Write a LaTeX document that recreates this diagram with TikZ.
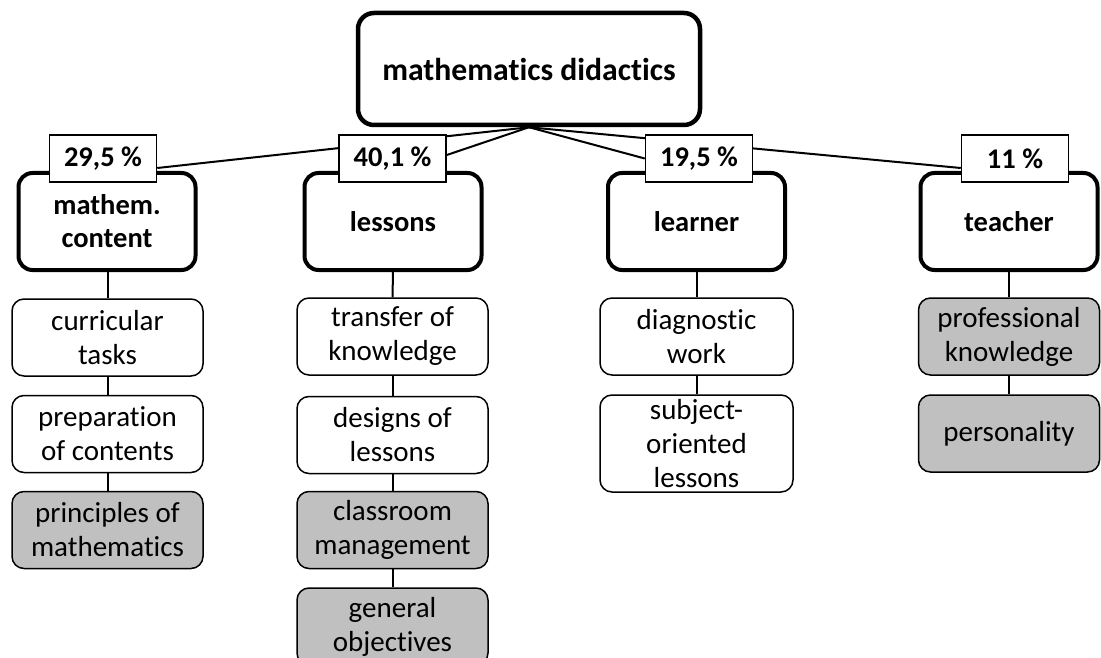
\documentclass[tikz,border=0pt]{standalone}
\usepackage{fontspec}
\setmainfont[Ligatures=NoCommon]{Carlito}
\usetikzlibrary{backgrounds}
\definecolor{boxgray}{HTML}{C0C0C0}
\tikzset{
  topbox/.style={draw, line width=4.5pt, rounded corners=16pt, fill=white,
    minimum width=342pt, minimum height=112pt, inner sep=0pt, align=center,
    font=\bfseries\fontsize{31.7}{36}\selectfont},
  catbox/.style={draw, line width=4pt, rounded corners=14pt, fill=white,
    minimum width=177pt, minimum height=97pt, inner sep=0pt, align=center,
    font=\bfseries\fontsize{28.5}{33}\selectfont},
  pctbox/.style={draw, line width=1.5pt, fill=white,
    minimum width=107pt, minimum height=47pt, inner sep=0pt, align=center,
    font=\bfseries\fontsize{28.5}{33}\selectfont},
  subbox/.style={draw, line width=1.5pt, rounded corners=12pt, fill=white,
    minimum width=191pt, minimum height=77pt, inner sep=0pt, align=center,
    font=\fontsize{29}{34}\selectfont},
  graybox/.style={subbox, fill=boxgray},
  conn/.style={line width=2pt}
}
\begin{document}
\begin{tikzpicture}[x=1pt,y=-1pt]
\useasboundingbox (0,0) rectangle (1101,658);
\clip (0,0) rectangle (1101,658);

% top node
\node[topbox] (top) at (529,69) {mathematics didactics};

% category boxes
\node[catbox] (cat1) at (107,221.5) {mathem.\\content};
\node[catbox] (cat2) at (393,221.5) {lessons};
\node[catbox] (cat3) at (696.5,221.5) {learner};
\node[catbox] (cat4) at (1009,221.5) {teacher};

% percent boxes
\node[pctbox] (p1) at (103,158.5) {29,5 \%};
\node[pctbox] (p2) at (392.5,158.5) {40,1 \%};
\node[pctbox] (p3) at (699,158.5) {19,5 \%};
\node[pctbox] (p4) at (1015,158.5) {11 \%};

% children column 1
\node[subbox] (a1) at (107.5,337.5) {curricular\\tasks};
\node[subbox] (a2) at (107.5,434) {preparation\\of contents};
\node[graybox] (a3) at (107.5,530) {principles of\\mathematics};
% column 2
\node[subbox] (b1) at (392.5,336.5) {transfer of\\knowledge};
\node[subbox] (b2) at (392.5,435) {designs of\\lessons};
\node[graybox] (b3) at (392.5,530) {classroom\\management};
\node[graybox] (b4) at (392.5,626.5) {general\\objectives};
% column 3
\node[subbox,minimum width=193pt] (c1) at (696.5,336.5) {diagnostic\\work};
\node[subbox,minimum width=193pt,minimum height=97pt] (c2) at (696.5,443.5) {subject-\\oriented\\lessons};
% column 4
\node[graybox,minimum width=181pt] (d1) at (1009,336.5) {professional\\knowledge};
\node[graybox,minimum width=181pt] (d2) at (1009,433.5) {personality};

% connectors (behind)
\begin{scope}[on background layer]
  \draw[conn] (top.south) -- ([yshift=-9.5pt]p1.east);
  \draw[conn] (top.south) -- ([yshift=3.5pt]p2.east);
  \draw[conn] (top.south) -- (p3.west);
  \draw[conn] (top.south) -- ([yshift=-9.5pt]p4.west);
  \draw[conn] (cat1.south) -- (a1.north |- cat1.south) -- (a1.north);
  \draw[conn] (a1.south) -- (a2.north);
  \draw[conn] (a2.south) -- (a3.north);
  \draw[conn] (cat2.south) -- (b1.north);
  \draw[conn] (b1.south) -- (b2.north);
  \draw[conn] (b2.south) -- (b3.north);
  \draw[conn] (b3.south) -- (b4.north);
  \draw[conn] (cat3.south) -- (c1.north);
  \draw[conn] (c1.south) -- (c2.north);
  \draw[conn] (cat4.south) -- (d1.north);
  \draw[conn] (d1.south) -- (d2.north);
\end{scope}
\end{tikzpicture}
\end{document}
